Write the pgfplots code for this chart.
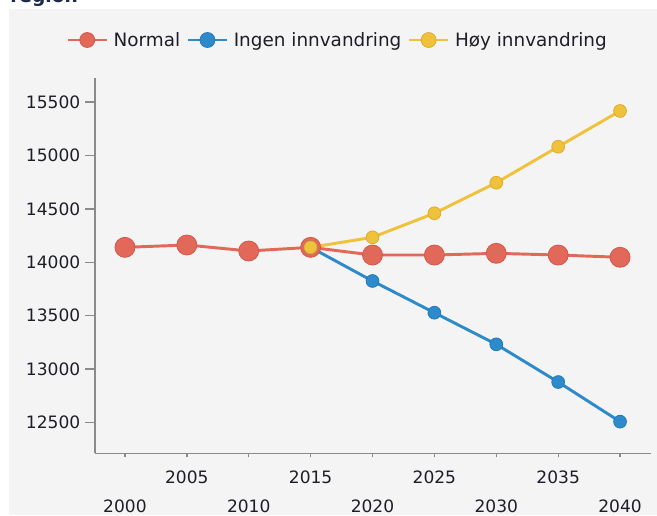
\documentclass[border=0pt]{standalone}
\usepackage{fontspec}
\setmainfont{DejaVu Sans}
\usepackage{pgfplots}
\pgfplotsset{compat=1.18}
\definecolor{bg}{HTML}{F4F4F4}
\definecolor{titlecol}{HTML}{1B2A4A}
\definecolor{axisgray}{HTML}{8A8A8A}
\definecolor{labelcol}{HTML}{1E1E28}
\definecolor{cRed}{HTML}{E2695A}
\definecolor{cRedD}{HTML}{D2584A}
\definecolor{cBlue}{HTML}{2E8BCB}
\definecolor{cBlueD}{HTML}{2479B6}
\definecolor{cYel}{HTML}{F0C23C}
\definecolor{cYelD}{HTML}{DDAD2C}
\newcommand\lo[1]{\raisebox{-21.4pt}[\height][0pt]{#1}}
\begin{document}
\begin{tikzpicture}
\path[use as bounding box] (0,0) rectangle (492.75pt,386.25pt);
\clip (0,0) rectangle (492.75pt,386.25pt);
\fill[white] (0,0) rectangle (492.75pt,386.25pt);
\fill[bg] (6.75pt,0) rectangle (492.75pt,379.5pt);
\node[anchor=base west, inner sep=0pt, font=\fontsize{14}{16}\selectfont\bfseries, text=titlecol] at (7.5pt,384pt) {region};
\begin{axis}[
  at={(71.25pt,46.3pt)}, anchor=south west,
  scale only axis, width=417pt, height=281.25pt,
  xmin=1997.58, xmax=2042.5, ymin=12212, ymax=15723,
  axis x line*=bottom, axis y line*=left,
  axis line style={-, draw=axisgray, line width=0.9pt},
  tick align=outside, major tick length=7.5pt,
  major tick style={draw=axisgray, line width=1pt},
  scaled y ticks=false, scaled x ticks=false,
  xtick=\empty,
  extra x ticks={2000,2005,2010,2015,2020,2025,2030,2035,2040},
  extra x tick labels={\lo{2000},2005,\lo{2010},2015,\lo{2020},2025,\lo{2030},2035,\lo{2040}},
  extra x tick style={major tick length=3pt},
  x tick label style={yshift=-6.75pt},
  ytick={12500,13000,13500,14000,14500,15000,15500},
  ytick pos=left,
  /pgf/number format/1000 sep={},
  /pgf/number format/assume math mode=true,
  ticklabel style={font=\fontsize{12.8}{15}\selectfont, text=labelcol},
  legend columns=3,
  legend style={at={(0.435,1.102)}, anchor=center, draw=none, fill=none,
    font=\fontsize{13.8}{16}\selectfont, text=labelcol,
    nodes={inner sep=0pt},
    /tikz/every odd column/.append style={column sep=4.5pt},
    /tikz/every even column/.append style={column sep=5.25pt}},
  legend image code/.code={
    \draw[#1, line width=1.5pt] (0pt,0pt) -- (29pt,0pt);
    \draw[#1, mark size=5.6pt] plot coordinates {(14.5pt,0pt)};
  },
]
\addplot[color=cRed, line width=2.2pt, mark=*, mark size=7.5pt,
  mark options={fill=cRed, draw=cRedD, line width=0.6pt}] coordinates {
  (2000,14140) (2005,14162) (2010,14106) (2015,14140) (2020,14068)
  (2025,14068) (2030,14084) (2035,14068) (2040,14047)};
\addlegendentry{Normal}
\addplot[color=cBlue, line width=2.2pt, mark=*, mark size=4.8pt,
  mark options={fill=cBlue, draw=cBlueD, line width=0.6pt}] coordinates {
  (2015,14140) (2020,13825) (2025,13528) (2030,13232) (2035,12879) (2040,12508)};
\addlegendentry{Ingen innvandring}
\addplot[color=cYel, line width=2.2pt, mark=*, mark size=4.8pt,
  mark options={fill=cYel, draw=cYelD, line width=0.6pt}] coordinates {
  (2015,14140) (2020,14234) (2025,14459) (2030,14745) (2035,15082) (2040,15417)};
\addlegendentry{Høy innvandring}
\end{axis}
\end{tikzpicture}
\end{document}
